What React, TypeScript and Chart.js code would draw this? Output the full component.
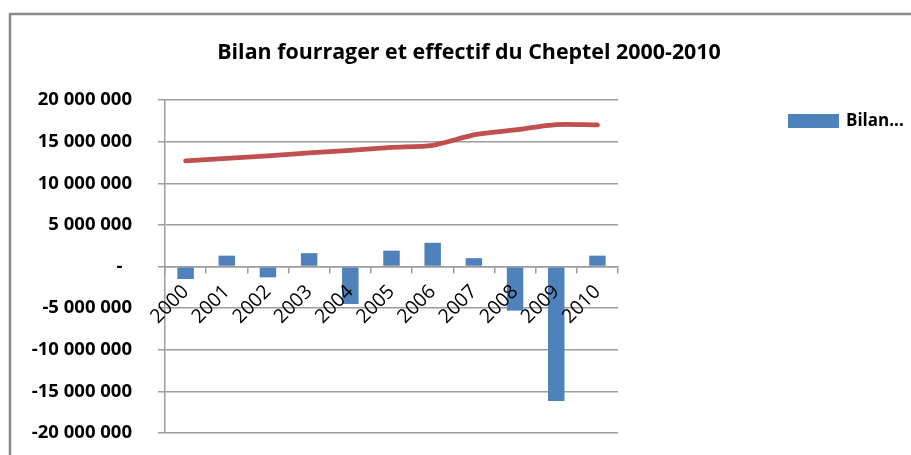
import React, { useEffect, useRef } from "react";
import { Chart, registerables } from "chart.js";

Chart.register(...registerables);

const years = ["2000", "2001", "2002", "2003", "2004", "2005", "2006", "2007", "2008", "2009", "2010"];
const bilanFourrager = [-1500000, 1300000, -1300000, 1600000, -4500000, 1900000, 2850000, 1000000, -5300000, -16150000, 1300000];
const effectifCheptel = [12700000, 13000000, 13300000, 13650000, 13950000, 14300000, 14550000, 15800000, 16400000, 17050000, 17000000];
const yTicks = [-20000000, -15000000, -10000000, -5000000, 0, 5000000, 10000000, 15000000, 20000000];

const titleText = "Bilan fourrager et effectif du Cheptel 2000-2010";
const legendText = "Bilan...";

const BLUE = "#4F81BD";
const RED = "#C0504D";
const GRID = "#9c9c9c";
const FONT = "'Open Sans', 'DejaVu Sans', sans-serif";

function fmt(v: number): string {
  if (v === 0) return "-  ";
  const s = Math.abs(v).toString().replace(/\B(?=(\d{3})+(?!\d))/g, " ");
  return (v < 0 ? "-" : "") + s;
}

const decorPlugin = {
  id: "decor",
  beforeDraw(chart: any) {
    const ctx = chart.ctx;
    ctx.save();
    ctx.fillStyle = "#ffffff";
    ctx.fillRect(0, 0, chart.width, chart.height);
    ctx.strokeStyle = "#8a8a8a";
    ctx.lineWidth = 2.5;
    ctx.beginPath();
    ctx.moveTo(10, chart.height + 5);
    ctx.lineTo(10, 14);
    ctx.lineTo(chart.width + 5, 14);
    ctx.stroke();
    ctx.restore();
  },
  afterDraw(chart: any) {
    const ctx = chart.ctx;
    ctx.save();
    ctx.fillStyle = "#000000";
    ctx.font = `bold 21.4px ${FONT}`;
    ctx.textAlign = "center";
    ctx.textBaseline = "alphabetic";
    ctx.fillText(titleText, 469, 58.5);
    ctx.fillStyle = BLUE;
    ctx.fillRect(788, 114, 51, 14);
    ctx.fillStyle = "#000000";
    ctx.font = `bold 17px ${FONT}`;
    ctx.textAlign = "left";
    ctx.textBaseline = "middle";
    ctx.fillText(legendText, 846, 121);
    ctx.restore();
  },
};

export default function App() {
  const ref = useRef<HTMLCanvasElement>(null);
  useEffect(() => {
    document.body.style.margin = "0";
    const chart = new Chart(ref.current as HTMLCanvasElement, {
      data: {
        labels: years,
        datasets: [
          {
            type: "line",
            label: "Effectif du Cheptel",
            data: effectifCheptel,
            borderColor: RED,
            backgroundColor: RED,
            borderWidth: 4.8,
            pointRadius: 0,
            tension: 0.25,
            borderCapStyle: "round",
            borderJoinStyle: "round",
            order: 0,
          },
          {
            type: "bar",
            label: "Bilan fourrager",
            data: bilanFourrager,
            backgroundColor: BLUE,
            borderWidth: 0,
            barPercentage: 0.4,
            categoryPercentage: 1,
            order: 1,
          },
        ],
      } as any,
      options: {
        animation: false,
        responsive: false,
        devicePixelRatio: 1,
        layout: { padding: { left: 0, top: 100, right: 293, bottom: 22 } },
        plugins: { legend: { display: false }, title: { display: false }, tooltip: { enabled: false } },
        scales: {
          x: {
            type: "category",
            position: { y: 0 } as any,
            offset: true,
            grid: { display: true, drawOnChartArea: false, drawTicks: true, tickLength: 6, offset: true, color: GRID, lineWidth: 1.5, z: 1 },
            border: { display: true, color: GRID, width: 1.5, z: 1 },
            ticks: {
              z: 1,
              minRotation: 45,
              maxRotation: 45,
              autoSkip: false,
              padding: 8,
              color: "#000000",
              font: { family: FONT, size: 19.5, weight: "normal" },
            },
            afterFit(scale: any) {
              scale.height = 0;
              scale.paddingLeft = 0;
              scale.paddingRight = 0;
            },
          },
          y: {
            type: "linear",
            min: -20000000,
            max: 20000000,
            afterBuildTicks(scale: any) {
              scale.ticks = yTicks.map((v) => ({ value: v }));
            },
            grid: { color: GRID, lineWidth: 1.5, drawTicks: true, tickLength: 7 },
            border: { display: true, color: GRID, width: 1.5 },
            ticks: {
              padding: 26,
              color: "#000000",
              font: { family: FONT, size: 18.5, weight: "bold" },
              callback: (v: any) => fmt(Number(v)),
            },
            afterFit(scale: any) {
              scale.width = 165;
              scale.paddingTop = 0;
              scale.paddingBottom = 0;
            },
          },
        },
      } as any,
      plugins: [decorPlugin],
    });
    return () => chart.destroy();
  }, []);
  return <canvas ref={ref} width={911} height={455} style={{ display: "block" }} />;
}
